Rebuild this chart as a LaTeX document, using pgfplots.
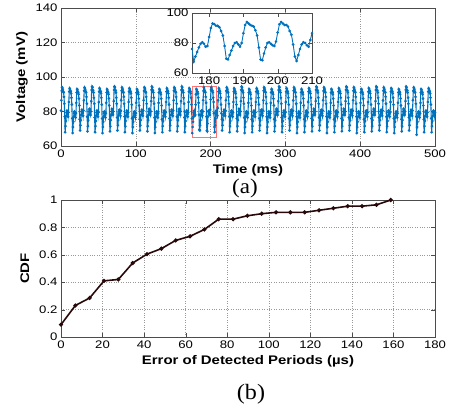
\documentclass[border=0pt]{standalone}
\usepackage{pgfplots}
\pgfplotsset{compat=1.18}
\usepackage{pgfplotstable}
\usepackage{fontspec}
\setmainfont{Liberation Sans}[FakeStretch=1.2]
\newfontfamily\capfont{Liberation Serif}[FakeStretch=1.1]
\definecolor{mblue}{RGB}{0,114,189}
\definecolor{cdfline}{RGB}{40,8,8}
\pgfplotstableread[row sep=\\]{x y\\
0 80.5\\ 0.5 86.5\\ 1 92\\ 1.5 94\\ 2 93.5\\ 2.5 92.5\\ 3 91.5\\ 3.5 91\\ 4 88.5\\ 4.5 84.5\\ 5 77\\
5.5 68\\ 6 71.5\\ 6.5 74.5\\ 7 77.5\\ 7.5 79.5\\ 8 80.5\\ 8.5 80\\ 9 78.5\\ 9.5 77\\ 10 79.5\\ 10.5 85.5\\ 11 91.5\\ 11.5 93.5\\ 12 93\\ 12.5 92\\ 13 91.5\\ 13.5 90.5\\ 14 88\\ 14.5 84\\ 15 76\\
15.5 67.5\\ 16 71\\ 16.5 74\\ 17 77\\ 17.5 79\\ 18 80\\ 18.5 79.5\\ 19 78\\ 19.5 76.5\\ 20 79\\ 20.5 85\\ 21 91\\ 21.5 93\\ 22 92.5\\ 22.5 91.5\\ 23 91\\ 23.5 90\\ 24 87.5\\ 24.5 83.5\\ 25 75.5\\
25.5 69\\ 26 72\\ 26.5 75\\ 27 78\\ 27.5 80\\ 28 81\\ 28.5 80.5\\ 29 79\\ 29.5 77.5\\ 30 80.5\\ 30.5 86.5\\ 31 92\\ 31.5 94\\ 32 93.5\\ 32.5 92.5\\ 33 91.5\\ 33.5 91\\ 34 88.5\\ 34.5 84.5\\ 35 77\\
35.5 68.5\\ 36 71.5\\ 36.5 75\\ 37 78\\ 37.5 80\\ 38 81.5\\ 38.5 81\\ 39 79\\ 39.5 78\\ 40 80\\ 40.5 86\\ 41 92.5\\ 41.5 94.5\\ 42 94\\ 42.5 92.5\\ 43 92\\ 43.5 91\\ 44 88\\ 44.5 84.5\\ 45 76.5\\
45.5 68\\ 46 71.5\\ 46.5 74.5\\ 47 77.5\\ 47.5 79.5\\ 48 80.5\\ 48.5 80\\ 49 78.5\\ 49.5 77\\ 50 79.5\\ 50.5 85.5\\ 51 91.5\\ 51.5 93.5\\ 52 93\\ 52.5 92\\ 53 91.5\\ 53.5 90.5\\ 54 88\\ 54.5 84\\ 55 76\\
55.5 67.5\\ 56 71\\ 56.5 74\\ 57 77\\ 57.5 79\\ 58 80\\ 58.5 79.5\\ 59 78\\ 59.5 76.5\\ 60 79\\ 60.5 85\\ 61 91\\ 61.5 93\\ 62 92.5\\ 62.5 91.5\\ 63 91\\ 63.5 90\\ 64 87.5\\ 64.5 83.5\\ 65 75.5\\
65.5 68.5\\ 66 71.5\\ 66.5 75\\ 67 78\\ 67.5 80\\ 68 81.5\\ 68.5 81\\ 69 79\\ 69.5 78\\ 70 80\\ 70.5 86\\ 71 92.5\\ 71.5 94.5\\ 72 94\\ 72.5 92.5\\ 73 92\\ 73.5 91\\ 74 88\\ 74.5 84.5\\ 75 76.5\\
75.5 69\\ 76 72\\ 76.5 75\\ 77 78\\ 77.5 80\\ 78 81\\ 78.5 80.5\\ 79 79\\ 79.5 77.5\\ 80 80.5\\ 80.5 86.5\\ 81 92\\ 81.5 94\\ 82 93.5\\ 82.5 92.5\\ 83 91.5\\ 83.5 91\\ 84 88.5\\ 84.5 84.5\\ 85 77\\
85.5 68\\ 86 71.5\\ 86.5 74.5\\ 87 77.5\\ 87.5 79.5\\ 88 80.5\\ 88.5 80\\ 89 78.5\\ 89.5 77\\ 90 79.5\\ 90.5 85.5\\ 91 91.5\\ 91.5 93.5\\ 92 93\\ 92.5 92\\ 93 91.5\\ 93.5 90.5\\ 94 88\\ 94.5 84\\ 95 76\\
95.5 67.5\\ 96 71\\ 96.5 74\\ 97 77\\ 97.5 79\\ 98 80\\ 98.5 79.5\\ 99 78\\ 99.5 76.5\\ 100 79\\ 100.5 85\\ 101 91\\ 101.5 93\\ 102 92.5\\ 102.5 91.5\\ 103 91\\ 103.5 90\\ 104 87.5\\ 104.5 83.5\\ 105 75.5\\
105.5 69\\ 106 72\\ 106.5 75\\ 107 78\\ 107.5 80\\ 108 81\\ 108.5 80.5\\ 109 79\\ 109.5 77.5\\ 110 80.5\\ 110.5 86.5\\ 111 92\\ 111.5 94\\ 112 93.5\\ 112.5 92.5\\ 113 91.5\\ 113.5 91\\ 114 88.5\\ 114.5 84.5\\ 115 77\\
115.5 68.5\\ 116 71.5\\ 116.5 75\\ 117 78\\ 117.5 80\\ 118 81.5\\ 118.5 81\\ 119 79\\ 119.5 78\\ 120 80\\ 120.5 86\\ 121 92.5\\ 121.5 94.5\\ 122 94\\ 122.5 92.5\\ 123 92\\ 123.5 91\\ 124 88\\ 124.5 84.5\\ 125 76.5\\
125.5 67.5\\ 126 71\\ 126.5 74\\ 127 77\\ 127.5 79\\ 128 80\\ 128.5 79.5\\ 129 78\\ 129.5 76.5\\ 130 79\\ 130.5 85\\ 131 91\\ 131.5 93\\ 132 92.5\\ 132.5 91.5\\ 133 91\\ 133.5 90\\ 134 87.5\\ 134.5 83.5\\ 135 75.5\\
135.5 68\\ 136 71.5\\ 136.5 74.5\\ 137 77.5\\ 137.5 79.5\\ 138 80.5\\ 138.5 80\\ 139 78.5\\ 139.5 77\\ 140 79.5\\ 140.5 85.5\\ 141 91.5\\ 141.5 93.5\\ 142 93\\ 142.5 92\\ 143 91.5\\ 143.5 90.5\\ 144 88\\ 144.5 84\\ 145 76\\
145.5 69\\ 146 72\\ 146.5 75\\ 147 78\\ 147.5 80\\ 148 81\\ 148.5 80.5\\ 149 79\\ 149.5 77.5\\ 150 80.5\\ 150.5 86.5\\ 151 92\\ 151.5 94\\ 152 93.5\\ 152.5 92.5\\ 153 91.5\\ 153.5 91\\ 154 88.5\\ 154.5 84.5\\ 155 77\\
155.5 68.5\\ 156 71.5\\ 156.5 75\\ 157 78\\ 157.5 80\\ 158 81.5\\ 158.5 81\\ 159 79\\ 159.5 78\\ 160 80\\ 160.5 86\\ 161 92.5\\ 161.5 94.5\\ 162 94\\ 162.5 92.5\\ 163 92\\ 163.5 91\\ 164 88\\ 164.5 84.5\\ 165 76.5\\
165.5 68\\ 166 71.5\\ 166.5 74.5\\ 167 77.5\\ 167.5 79.5\\ 168 80.5\\ 168.5 80\\ 169 78.5\\ 169.5 77\\ 170 79.5\\ 170.5 85.5\\ 171 91.5\\ 171.5 93.5\\ 172 93\\ 172.5 92\\ 173 91.5\\ 173.5 90.5\\ 174 88\\ 174.5 84\\ 175 76\\
175.5 67.5\\ 176 71\\ 176.5 74\\ 177 77\\ 177.5 79.5\\ 178 80.5\\ 178.5 79.5\\ 179 77.5\\ 179.5 78\\ 180 84\\ 180.5 90\\ 181 93\\ 181.5 92.5\\ 182 91.5\\ 182.5 91.5\\ 183 90.5\\ 183.5 88\\ 184 85\\ 184.5 78\\ 185 69.5\\
185.5 69\\ 186 72\\ 186.5 75\\ 187 78\\ 187.5 80\\ 188 80.5\\ 188.5 79\\ 189 77.5\\ 189.5 80\\ 190 86.5\\ 190.5 92\\ 191 94\\ 191.5 93\\ 192 92\\ 192.5 91.5\\ 193 91\\ 193.5 88.5\\ 194 85\\ 194.5 77\\ 195 69\\
195.5 68.5\\ 196 73\\ 196.5 77\\ 197 80\\ 197.5 80.5\\ 198 79.5\\ 198.5 78.5\\ 199 78\\ 199.5 81\\ 200 87\\ 200.5 92.5\\ 201 94\\ 201.5 93\\ 202 92\\ 202.5 92\\ 203 91\\ 203.5 88\\ 204 85.5\\ 204.5 79\\ 205 71\\
205.5 68\\ 206 72\\ 206.5 76\\ 207 79\\ 207.5 80.5\\ 208 80\\ 208.5 78.5\\ 209 77.5\\ 209.5 82\\ 210 86.5\\ 210.5 91.5\\ 211 93.5\\ 211.5 93\\ 212 92\\ 212.5 91.5\\ 213 90.5\\ 213.5 88\\ 214 84\\ 214.5 79\\ 215 75.5\\
215.5 69\\ 216 72\\ 216.5 75\\ 217 78\\ 217.5 80\\ 218 81\\ 218.5 80.5\\ 219 79\\ 219.5 77.5\\ 220 80.5\\ 220.5 86.5\\ 221 92\\ 221.5 94\\ 222 93.5\\ 222.5 92.5\\ 223 91.5\\ 223.5 91\\ 224 88.5\\ 224.5 84.5\\ 225 77\\
225.5 68\\ 226 71.5\\ 226.5 74.5\\ 227 77.5\\ 227.5 79.5\\ 228 80.5\\ 228.5 80\\ 229 78.5\\ 229.5 77\\ 230 79.5\\ 230.5 85.5\\ 231 91.5\\ 231.5 93.5\\ 232 93\\ 232.5 92\\ 233 91.5\\ 233.5 90.5\\ 234 88\\ 234.5 84\\ 235 76\\
235.5 68.5\\ 236 71.5\\ 236.5 75\\ 237 78\\ 237.5 80\\ 238 81.5\\ 238.5 81\\ 239 79\\ 239.5 78\\ 240 80\\ 240.5 86\\ 241 92.5\\ 241.5 94.5\\ 242 94\\ 242.5 92.5\\ 243 92\\ 243.5 91\\ 244 88\\ 244.5 84.5\\ 245 76.5\\
245.5 67.5\\ 246 71\\ 246.5 74\\ 247 77\\ 247.5 79\\ 248 80\\ 248.5 79.5\\ 249 78\\ 249.5 76.5\\ 250 79\\ 250.5 85\\ 251 91\\ 251.5 93\\ 252 92.5\\ 252.5 91.5\\ 253 91\\ 253.5 90\\ 254 87.5\\ 254.5 83.5\\ 255 75.5\\
255.5 68\\ 256 71.5\\ 256.5 74.5\\ 257 77.5\\ 257.5 79.5\\ 258 80.5\\ 258.5 80\\ 259 78.5\\ 259.5 77\\ 260 79.5\\ 260.5 85.5\\ 261 91.5\\ 261.5 93.5\\ 262 93\\ 262.5 92\\ 263 91.5\\ 263.5 90.5\\ 264 88\\ 264.5 84\\ 265 76\\
265.5 69\\ 266 72\\ 266.5 75\\ 267 78\\ 267.5 80\\ 268 81\\ 268.5 80.5\\ 269 79\\ 269.5 77.5\\ 270 80.5\\ 270.5 86.5\\ 271 92\\ 271.5 94\\ 272 93.5\\ 272.5 92.5\\ 273 91.5\\ 273.5 91\\ 274 88.5\\ 274.5 84.5\\ 275 77\\
275.5 67.5\\ 276 71\\ 276.5 74\\ 277 77\\ 277.5 79\\ 278 80\\ 278.5 79.5\\ 279 78\\ 279.5 76.5\\ 280 79\\ 280.5 85\\ 281 91\\ 281.5 93\\ 282 92.5\\ 282.5 91.5\\ 283 91\\ 283.5 90\\ 284 87.5\\ 284.5 83.5\\ 285 75.5\\
285.5 68.5\\ 286 71.5\\ 286.5 75\\ 287 78\\ 287.5 80\\ 288 81.5\\ 288.5 81\\ 289 79\\ 289.5 78\\ 290 80\\ 290.5 86\\ 291 92.5\\ 291.5 94.5\\ 292 94\\ 292.5 92.5\\ 293 92\\ 293.5 91\\ 294 88\\ 294.5 84.5\\ 295 76.5\\
295.5 68\\ 296 71.5\\ 296.5 74.5\\ 297 77.5\\ 297.5 79.5\\ 298 80.5\\ 298.5 80\\ 299 78.5\\ 299.5 77\\ 300 79.5\\ 300.5 85.5\\ 301 91.5\\ 301.5 93.5\\ 302 93\\ 302.5 92\\ 303 91.5\\ 303.5 90.5\\ 304 88\\ 304.5 84\\ 305 76\\
305.5 69\\ 306 72\\ 306.5 75\\ 307 78\\ 307.5 80\\ 308 81\\ 308.5 80.5\\ 309 79\\ 309.5 77.5\\ 310 80.5\\ 310.5 86.5\\ 311 92\\ 311.5 94\\ 312 93.5\\ 312.5 92.5\\ 313 91.5\\ 313.5 91\\ 314 88.5\\ 314.5 84.5\\ 315 77\\
315.5 67.5\\ 316 71\\ 316.5 74\\ 317 77\\ 317.5 79\\ 318 80\\ 318.5 79.5\\ 319 78\\ 319.5 76.5\\ 320 79\\ 320.5 85\\ 321 91\\ 321.5 93\\ 322 92.5\\ 322.5 91.5\\ 323 91\\ 323.5 90\\ 324 87.5\\ 324.5 83.5\\ 325 75.5\\
325.5 68\\ 326 71.5\\ 326.5 74.5\\ 327 77.5\\ 327.5 79.5\\ 328 80.5\\ 328.5 80\\ 329 78.5\\ 329.5 77\\ 330 79.5\\ 330.5 85.5\\ 331 91.5\\ 331.5 93.5\\ 332 93\\ 332.5 92\\ 333 91.5\\ 333.5 90.5\\ 334 88\\ 334.5 84\\ 335 76\\
335.5 68.5\\ 336 71.5\\ 336.5 75\\ 337 78\\ 337.5 80\\ 338 81.5\\ 338.5 81\\ 339 79\\ 339.5 78\\ 340 80\\ 340.5 86\\ 341 92.5\\ 341.5 94.5\\ 342 94\\ 342.5 92.5\\ 343 92\\ 343.5 91\\ 344 88\\ 344.5 84.5\\ 345 76.5\\
345.5 69\\ 346 72\\ 346.5 75\\ 347 78\\ 347.5 80\\ 348 81\\ 348.5 80.5\\ 349 79\\ 349.5 77.5\\ 350 80.5\\ 350.5 86.5\\ 351 92\\ 351.5 94\\ 352 93.5\\ 352.5 92.5\\ 353 91.5\\ 353.5 91\\ 354 88.5\\ 354.5 84.5\\ 355 77\\
355.5 67.5\\ 356 71\\ 356.5 74\\ 357 77\\ 357.5 79\\ 358 80\\ 358.5 79.5\\ 359 78\\ 359.5 76.5\\ 360 79\\ 360.5 85\\ 361 91\\ 361.5 93\\ 362 92.5\\ 362.5 91.5\\ 363 91\\ 363.5 90\\ 364 87.5\\ 364.5 83.5\\ 365 75.5\\
365.5 68\\ 366 71.5\\ 366.5 74.5\\ 367 77.5\\ 367.5 79.5\\ 368 80.5\\ 368.5 80\\ 369 78.5\\ 369.5 77\\ 370 79.5\\ 370.5 85.5\\ 371 91.5\\ 371.5 93.5\\ 372 93\\ 372.5 92\\ 373 91.5\\ 373.5 90.5\\ 374 88\\ 374.5 84\\ 375 76\\
375.5 68.5\\ 376 71.5\\ 376.5 75\\ 377 78\\ 377.5 80\\ 378 81.5\\ 378.5 81\\ 379 79\\ 379.5 78\\ 380 80\\ 380.5 86\\ 381 92.5\\ 381.5 94.5\\ 382 94\\ 382.5 92.5\\ 383 92\\ 383.5 91\\ 384 88\\ 384.5 84.5\\ 385 76.5\\
385.5 69\\ 386 72\\ 386.5 75\\ 387 78\\ 387.5 80\\ 388 81\\ 388.5 80.5\\ 389 79\\ 389.5 77.5\\ 390 80.5\\ 390.5 86.5\\ 391 92\\ 391.5 94\\ 392 93.5\\ 392.5 92.5\\ 393 91.5\\ 393.5 91\\ 394 88.5\\ 394.5 84.5\\ 395 77\\
395.5 67.5\\ 396 71\\ 396.5 74\\ 397 77\\ 397.5 79\\ 398 80\\ 398.5 79.5\\ 399 78\\ 399.5 76.5\\ 400 79\\ 400.5 85\\ 401 91\\ 401.5 93\\ 402 92.5\\ 402.5 91.5\\ 403 91\\ 403.5 90\\ 404 87.5\\ 404.5 83.5\\ 405 75.5\\
405.5 68\\ 406 71.5\\ 406.5 74.5\\ 407 77.5\\ 407.5 79.5\\ 408 80.5\\ 408.5 80\\ 409 78.5\\ 409.5 77\\ 410 79.5\\ 410.5 85.5\\ 411 91.5\\ 411.5 93.5\\ 412 93\\ 412.5 92\\ 413 91.5\\ 413.5 90.5\\ 414 88\\ 414.5 84\\ 415 76\\
415.5 68.5\\ 416 71.5\\ 416.5 75\\ 417 78\\ 417.5 80\\ 418 81.5\\ 418.5 81\\ 419 79\\ 419.5 78\\ 420 80\\ 420.5 86\\ 421 92.5\\ 421.5 94.5\\ 422 94\\ 422.5 92.5\\ 423 92\\ 423.5 91\\ 424 88\\ 424.5 84.5\\ 425 76.5\\
425.5 69\\ 426 72\\ 426.5 75\\ 427 78\\ 427.5 80\\ 428 81\\ 428.5 80.5\\ 429 79\\ 429.5 77.5\\ 430 80.5\\ 430.5 86.5\\ 431 92\\ 431.5 94\\ 432 93.5\\ 432.5 92.5\\ 433 91.5\\ 433.5 91\\ 434 88.5\\ 434.5 84.5\\ 435 77\\
435.5 68\\ 436 71.5\\ 436.5 74.5\\ 437 77.5\\ 437.5 79.5\\ 438 80.5\\ 438.5 80\\ 439 78.5\\ 439.5 77\\ 440 79.5\\ 440.5 85.5\\ 441 91.5\\ 441.5 93.5\\ 442 93\\ 442.5 92\\ 443 91.5\\ 443.5 90.5\\ 444 88\\ 444.5 84\\ 445 76\\
445.5 67.5\\ 446 71\\ 446.5 74\\ 447 77\\ 447.5 79\\ 448 80\\ 448.5 79.5\\ 449 78\\ 449.5 76.5\\ 450 79\\ 450.5 85\\ 451 91\\ 451.5 93\\ 452 92.5\\ 452.5 91.5\\ 453 91\\ 453.5 90\\ 454 87.5\\ 454.5 83.5\\ 455 75.5\\
455.5 68.5\\ 456 71.5\\ 456.5 75\\ 457 78\\ 457.5 80\\ 458 81.5\\ 458.5 81\\ 459 79\\ 459.5 78\\ 460 80\\ 460.5 86\\ 461 92.5\\ 461.5 94.5\\ 462 94\\ 462.5 92.5\\ 463 92\\ 463.5 91\\ 464 88\\ 464.5 84.5\\ 465 76.5\\
465.5 69\\ 466 72\\ 466.5 75\\ 467 78\\ 467.5 80\\ 468 81\\ 468.5 80.5\\ 469 79\\ 469.5 77.5\\ 470 80.5\\ 470.5 86.5\\ 471 92\\ 471.5 94\\ 472 93.5\\ 472.5 92.5\\ 473 91.5\\ 473.5 91\\ 474 88.5\\ 474.5 84.5\\ 475 77\\
475.5 66.5\\ 476 71\\ 476.5 74\\ 477 77\\ 477.5 79\\ 478 80\\ 478.5 79.5\\ 479 78\\ 479.5 76.5\\ 480 79\\ 480.5 85\\ 481 91\\ 481.5 93\\ 482 92.5\\ 482.5 91.5\\ 483 91\\ 483.5 90\\ 484 87.5\\ 484.5 83.5\\ 485 75.5\\
485.5 68\\ 486 71.5\\ 486.5 74.5\\ 487 77.5\\ 487.5 79.5\\ 488 80.5\\ 488.5 80\\ 489 78.5\\ 489.5 77\\ 490 79.5\\ 490.5 85.5\\ 491 91.5\\ 491.5 93.5\\ 492 93\\ 492.5 92\\ 493 91.5\\ 493.5 90.5\\ 494 88\\ 494.5 84\\ 495 76\\
495.5 68\\ 496 71.5\\ 496.5 74.5\\ 497 77.5\\ 497.5 79.5\\ 498 80.5\\ 498.5 80\\ 499 78.5\\ 499.5 77\\ 500 79.5\\
}\sig
\pgfplotstableread[row sep=\\]{x y\\
0 0.09\\ 6.9 0.23\\ 13.8 0.285\\ 20.7 0.41\\ 27.6 0.42\\ 34.5 0.54\\ 41.4 0.605\\ 48.3 0.645\\ 55.2 0.705\\ 62.1 0.735\\ 69 0.785\\ 75.9 0.86\\ 82.8 0.86\\ 89.7 0.885\\ 96.6 0.9\\ 103.5 0.91\\ 110.4 0.91\\ 117.3 0.91\\ 124.2 0.925\\ 131.1 0.94\\ 138 0.955\\ 144.9 0.955\\ 151.8 0.965\\ 158.7 1\\
}\cdf
\begin{document}
\begin{tikzpicture}
\path[use as bounding box] (0bp,0bp) rectangle (453bp,-411bp);
\pgfplotsset{
  every axis/.append style={
    scale only axis,
    /pgf/number format/assume math mode=true,
    tick label style={font=\fontsize{11}{12}\selectfont, text=black},
    label style={font=\fontsize{12.5}{14}\selectfont\bfseries, text=black},
    axis line style={black!70},
    major tick style={black!70},
    grid style={dotted, black!40, line width=0.45pt},
  }}
\begin{axis}[at={(61bp,-146bp)}, anchor=south west, width=374bp, height=138bp,
  xmin=0, xmax=500, ymin=60, ymax=140,
  xtick={0,100,200,300,400,500}, ytick={60,80,100,120,140},
  grid=major, xlabel={Time (ms)}, ylabel={Voltage (mV)},
  ylabel style={yshift=1bp}]
\addplot[mblue, mark=*, mark size=0.75pt, line width=1.1pt] table {\sig};
\draw[red!55, line width=0.7pt] (axis cs:176,65.2) rectangle (axis cs:208,94.8);
\end{axis}
\begin{axis}[at={(192bp,-73bp)}, anchor=south west, width=120bp, height=60bp,
  xmin=175, xmax=210, ymin=60, ymax=100,
  xtick={180,190,200,210}, ytick={60,80,100},
  axis background/.style={fill=white}]
\addplot[mblue, mark=*, mark size=0.85pt, line width=0.9pt] table {\sig};
\end{axis}
\node[font=\capfont\fontsize{21}{23}\selectfont] at (245bp,-188bp) {(a)};
\begin{axis}[at={(61bp,-337bp)}, anchor=south west, width=374bp, height=137bp,
  xmin=0, xmax=180, ymin=0, ymax=1,
  xtick={0,20,...,180}, ytick={0,0.2,0.4,0.6,0.8,1},
  grid=major, xlabel={Error of Detected Periods (µs)}, ylabel={CDF},
  ylabel style={yshift=3bp}]
\addplot[cdfline, mark=*, mark size=1.2pt, line width=1.6pt] table {\cdf};
\end{axis}
\node[font=\capfont\fontsize{22}{24}\selectfont] at (251bp,-394bp) {(b)};
\end{tikzpicture}
\end{document}
